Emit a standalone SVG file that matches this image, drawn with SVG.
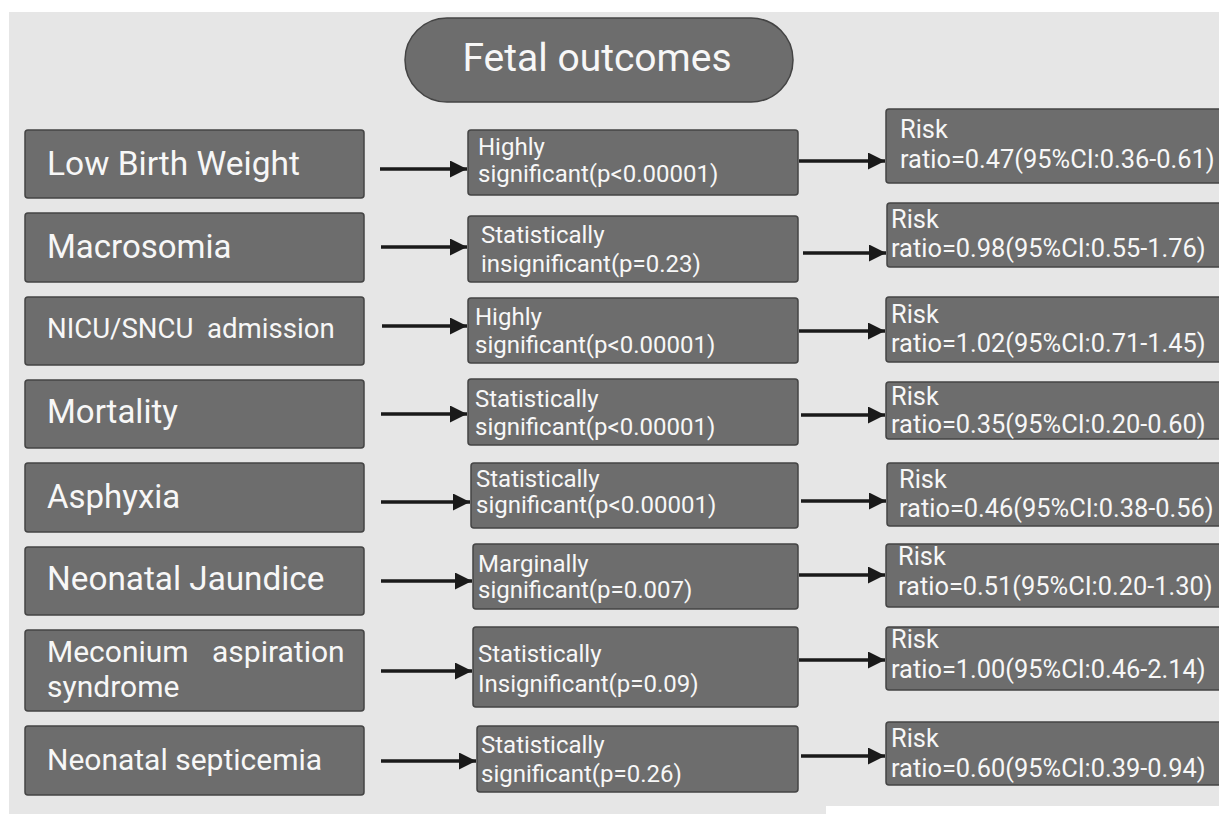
<svg xmlns="http://www.w3.org/2000/svg" width="1219" height="814" viewBox="0 0 1219 814">
<defs>
<style>
.bg{fill:#e6e6e6}
.box{fill:#6d6d6d;stroke:#444;stroke-width:1.5}
.t{fill:#f7f7f7;font-family:Roboto,"Liberation Sans",sans-serif}
.l{font-size:33px}
.m{font-size:24px}
.r{font-size:25.4px}
.c{stroke:#1a1a1a;stroke-width:3.5;fill:none;marker-end:url(#ah)}
</style>
<marker id="ah" markerUnits="userSpaceOnUse" markerWidth="19" markerHeight="18" refX="17" refY="8.5" orient="auto">
<path d="M0,0 L17,8.5 L0,17 Z" fill="#1a1a1a"/>
</marker>
</defs>
<rect x="0" y="0" width="1219" height="814" fill="#ffffff"/>
<rect class="bg" x="9" y="12" width="1210" height="802"/>
<rect x="826" y="806" width="393" height="8" fill="#ffffff"/>

<g id="title">
<rect class="box" x="405" y="18" width="388" height="84" rx="42"/>
<text class="t" x="597" y="71" font-size="39" text-anchor="middle">Fetal outcomes</text>
</g>

<g id="left">
<g id="n-lbw"><rect class="box" x="25" y="130" width="339" height="68" rx="3"/><text class="t" x="47" y="175" font-size="33.5">Low Birth Weight</text></g>
<g id="n-macro"><rect class="box" x="25" y="213" width="339" height="69" rx="3"/><text class="t l" x="47" y="258">Macrosomia</text></g>
<g id="n-nicu"><rect class="box" x="25" y="297" width="339" height="68" rx="3"/><text class="t" x="47" y="338" font-size="27.6" xml:space="preserve">NICU/SNCU  admission</text></g>
<g id="n-mort"><rect class="box" x="25" y="380" width="339" height="68" rx="3"/><text class="t l" x="47" y="423">Mortality</text></g>
<g id="n-asph"><rect class="box" x="25" y="463" width="339" height="69" rx="3"/><text class="t l" x="47" y="508">Asphyxia</text></g>
<g id="n-jaund"><rect class="box" x="25" y="547" width="339" height="68" rx="3"/><text class="t" x="47" y="590" font-size="33.3">Neonatal Jaundice</text></g>
<g id="n-mec"><rect class="box" x="25" y="630" width="339" height="81" rx="3"/><text class="t" font-size="30"><tspan x="47" y="662">Meconium</tspan><tspan x="212" y="662">aspiration</tspan><tspan x="47" y="697">syndrome</tspan></text></g>
<g id="n-sept"><rect class="box" x="25" y="726" width="339" height="69" rx="3"/><text class="t" x="47" y="770" font-size="30">Neonatal septicemia</text></g>
</g>

<g id="middle">
<g id="p1"><rect class="box" x="468" y="130" width="330" height="65" rx="3"/><text class="t m"><tspan x="478" y="155">Highly</tspan><tspan x="478" y="182">significant(p&lt;0.00001)</tspan></text></g>
<g id="p2"><rect class="box" x="468" y="216" width="330" height="66" rx="3"/><text class="t m"><tspan x="481" y="243">Statistically</tspan><tspan x="481" y="272">insignificant(p=0.23)</tspan></text></g>
<g id="p3"><rect class="box" x="468" y="298" width="330" height="65" rx="3"/><text class="t m"><tspan x="475" y="325">Highly</tspan><tspan x="475" y="353">significant(p&lt;0.00001)</tspan></text></g>
<g id="p4"><rect class="box" x="468" y="379" width="330" height="66" rx="3"/><text class="t m"><tspan x="475" y="407">Statistically</tspan><tspan x="475" y="435">significant(p&lt;0.00001)</tspan></text></g>
<g id="p5"><rect class="box" x="471" y="463" width="327" height="65" rx="3"/><text class="t m"><tspan x="476" y="487">Statistically</tspan><tspan x="476" y="513">significant(p&lt;0.00001)</tspan></text></g>
<g id="p6"><rect class="box" x="473" y="544" width="325" height="65" rx="3"/><text class="t m"><tspan x="478" y="572">Marginally</tspan><tspan x="478" y="598">significant(p=0.007)</tspan></text></g>
<g id="p7"><rect class="box" x="473" y="627" width="325" height="80" rx="3"/><text class="t m"><tspan x="478" y="662">Statistically</tspan><tspan x="478" y="692">Insignificant(p=0.09)</tspan></text></g>
<g id="p8"><rect class="box" x="477" y="726" width="321" height="66" rx="3"/><text class="t m"><tspan x="481" y="753">Statistically</tspan><tspan x="481" y="782">significant(p=0.26)</tspan></text></g>
</g>

<g id="right">
<g id="r1"><rect class="box" x="886" y="109" width="345" height="74" rx="3"/><text class="t r"><tspan x="900" y="138">Risk</tspan><tspan x="900" y="168">ratio=0.47(95%CI:0.36-0.61)</tspan></text></g>
<g id="r2"><rect class="box" x="887" y="203" width="345" height="64" rx="3"/><text class="t r"><tspan x="891" y="228">Risk</tspan><tspan x="891" y="257">ratio=0.98(95%CI:0.55-1.76)</tspan></text></g>
<g id="r3"><rect class="box" x="886" y="297" width="345" height="65" rx="3"/><text class="t r"><tspan x="891" y="323">Risk</tspan><tspan x="891" y="352">ratio=1.02(95%CI:0.71-1.45)</tspan></text></g>
<g id="r4"><rect class="box" x="886" y="382" width="345" height="57" rx="3"/><text class="t r"><tspan x="891" y="405">Risk</tspan><tspan x="891" y="433">ratio=0.35(95%CI:0.20-0.60)</tspan></text></g>
<g id="r5"><rect class="box" x="887" y="463" width="345" height="63" rx="3"/><text class="t r"><tspan x="899" y="488">Risk</tspan><tspan x="899" y="517">ratio=0.46(95%CI:0.38-0.56)</tspan></text></g>
<g id="r6"><rect class="box" x="886" y="544" width="345" height="63" rx="3"/><text class="t r"><tspan x="898" y="565">Risk</tspan><tspan x="898" y="595">ratio=0.51(95%CI:0.20-1.30)</tspan></text></g>
<g id="r7"><rect class="box" x="886" y="627" width="345" height="63" rx="3"/><text class="t r"><tspan x="891" y="648">Risk</tspan><tspan x="891" y="678">ratio=1.00(95%CI:0.46-2.14)</tspan></text></g>
<g id="r8"><rect class="box" x="886" y="722" width="345" height="63" rx="3"/><text class="t r"><tspan x="891" y="747">Risk</tspan><tspan x="891" y="777">ratio=0.60(95%CI:0.39-0.94)</tspan></text></g>
</g>

<g id="connectors">
<line class="c" x1="380" y1="169" x2="467" y2="169"/>
<line class="c" x1="381" y1="247" x2="467" y2="247"/>
<line class="c" x1="382" y1="326" x2="467" y2="326"/>
<line class="c" x1="381" y1="414" x2="467" y2="414"/>
<line class="c" x1="381" y1="502" x2="470" y2="502"/>
<line class="c" x1="381" y1="581" x2="472" y2="581"/>
<line class="c" x1="381" y1="671" x2="472" y2="671"/>
<line class="c" x1="381" y1="761" x2="476" y2="761"/>
<line class="c" x1="799" y1="161" x2="885" y2="161"/>
<line class="c" x1="803" y1="253" x2="886" y2="253"/>
<line class="c" x1="799" y1="331" x2="885" y2="331"/>
<line class="c" x1="801" y1="415" x2="885" y2="415"/>
<line class="c" x1="801" y1="501" x2="886" y2="501"/>
<line class="c" x1="799" y1="575" x2="885" y2="575"/>
<line class="c" x1="799" y1="660" x2="885" y2="660"/>
<line class="c" x1="801" y1="756" x2="885" y2="756"/>
</g>
</svg>
